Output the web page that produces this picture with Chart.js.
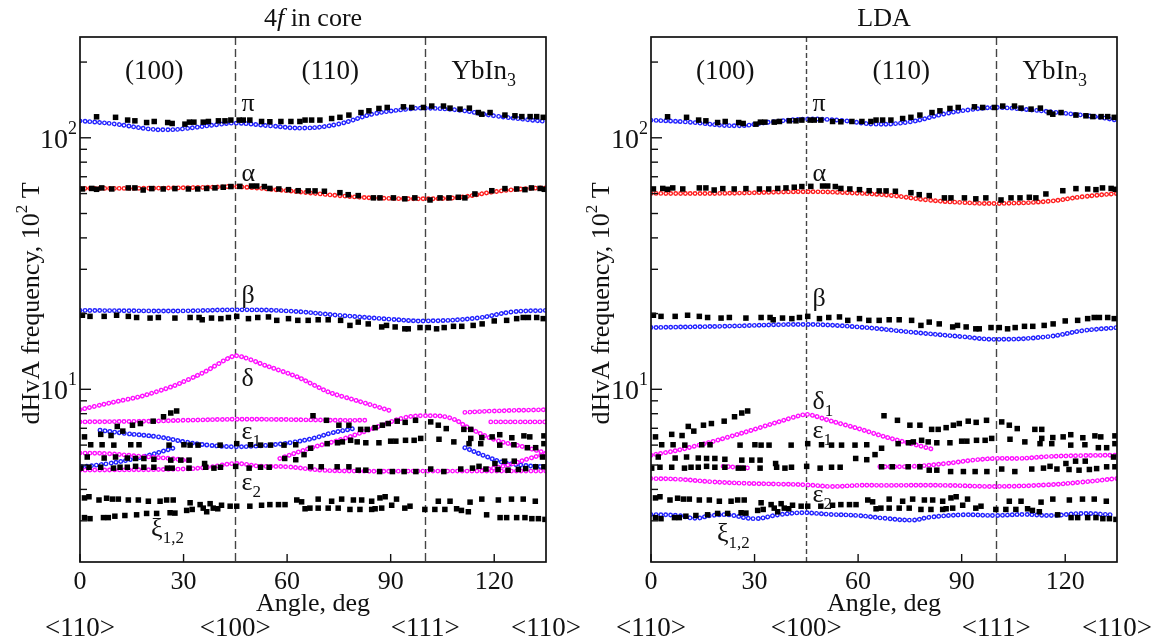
<!DOCTYPE html>
<html>
<head>
<meta charset="utf-8">
<script src="https://cdn.jsdelivr.net/npm/chart.js@4.4.1/dist/chart.umd.min.js"></script>
<style>
  html, body { margin: 0; padding: 0; background: #fff; }
  #wrap { position: relative; width: 1154px; height: 641px; }
  #wrap canvas { position: absolute; left: 0; top: 0; }
</style>
</head>
<body>
<div id="wrap">
  <canvas id="leftChart" width="1154" height="641"></canvas>
  <canvas id="rightChart" width="1154" height="641"></canvas>
</div>
<script>
// axis ticks and labels
const angleTicks = [0, 30, 60, 90, 120];
const freqTicks = [3, 4, 5, 6, 7, 8, 9, 10, 20, 30, 40, 50, 60, 70, 80, 90, 100, 200];
const decadeTicks = [10, 100];
const dividers = [45, 100];
const directions = [[0, '<110>'], [45, '<100>'], [100, '<111>'], [135, '<110>']];

// experimental dHvA points (black squares), [angle, frequency]
const expPi = [[4.8,121.2],[10.3,120.6],[13.8,117.6],[15.9,116.8],[19.3,115.0],[21.5,116.1],[25.4,115.0],[26.7,114.0],[30.4,113.3],[31.7,115.4],[33,115.4],[35.7,115.4],[37.2,116.1],[40.1,116.8],[42,116.8],[43.7,117.6],[46.1,117.6],[47.3,117.6],[49.2,117.6],[52.6,116.1],[55,115.8],[58.2,116.1],[61.1,116.1],[63.7,116.1],[65.2,117.6],[67.1,117.6],[69.5,117.6],[72.9,119.3],[75.3,120.6],[77.9,123.1],[81.4,126.0],[83.7,128.0],[86.6,130.8],[89,132.0],[93.7,132.8],[96.1,132.0],[99.5,132.0],[101.9,133.7],[105.3,133.7],[107.2,131.2],[110.1,130.0],[112.8,131.2],[115.4,126.0],[116.4,124.1],[118.8,126.0],[123.1,123.1],[126,122.3],[128,121.4],[130.4,121.4],[132.3,121.4],[134.2,120.6]];
const expAlpha = [[0.7,62.6],[3.4,62.9],[4.8,62.4],[6.3,63.2],[9.2,62.6],[14,63.2],[15.9,63.2],[18.3,62.0],[20.8,62.8],[24.1,62.6],[27.5,62.8],[31.4,62.6],[34.1,62.6],[36.7,62.9],[39.1,63.2],[41.5,63.6],[43.7,64.0],[46.3,64.1],[49.7,64.3],[51.2,64.3],[53.4,64.0],[55,62.9],[57.6,62.6],[60.4,62.2],[63.2,61.6],[66.1,61.5],[68.1,61.5],[70.8,61.3],[75.3,60.5],[77.7,59.4],[80.6,58.9],[85,57.7],[86.9,57.7],[90.8,57.7],[94.1,57.2],[97,57.7],[101.4,56.6],[104.3,57.7],[106.9,57.7],[109.6,58.0],[111.5,57.7],[114.4,59.8],[119.3,61.6],[123.1,62.8],[126.5,62.6],[128.9,62.2],[130.8,63.2],[133.3,62.9],[134.5,62.4]];
const expBeta = [[0.7,19.7],[2.9,19.5],[7,19.5],[10.6,19.7],[14,19.5],[16.4,19.3],[20.3,19.2],[22.7,19.3],[27.5,19.2],[31.9,19.3],[34.5,19.3],[35.4,18.9],[38.1,19.2],[40.8,19.1],[43,19.3],[45.4,19.5],[48.8,19.1],[51.5,19.3],[54.6,19.4],[57,18.8],[60.4,19.1],[63.1,18.8],[66.1,18.8],[69,18.9],[71.9,18.9],[75.5,18.8],[78.2,17.95],[80.6,18.5],[83.5,18.2],[87.4,17.7],[88.8,17.95],[91.3,17.7],[94.1,17.4],[95.1,17.4],[98.5,17.6],[100.9,17.6],[103.3,17.4],[105.5,17.6],[108.2,17.8],[110.6,17.8],[113.9,17.95],[116.5,18.2],[120,18.7],[123.6,18.8],[126.5,19.1],[128.4,19.3],[129.9,19.3],[132.3,19.3],[134.2,19.1]];
const expDelta = [[1.3,6.47],[6,6.62],[9,6.55],[10.8,7.12],[12.4,6.82],[15.2,7.2],[17.5,7.31],[21.2,7.47],[24.2,7.78],[26.3,8.05],[28,8.2]];
const expUpper = [[67.5,7.85],[71.4,7.53],[75,7.2],[77.9,7.2],[81.3,6.93],[83.2,6.93],[85.5,7.04],[87.6,7.2],[89.3,7.31],[91.9,7.47],[94.2,7.39],[97.2,7.53],[101.6,7.42],[103.8,7.2],[106.1,6.98],[111.2,6.93],[113.2,6.93],[116.4,6.43],[119.4,6.47],[121.6,6.6],[125.1,6.42],[128.6,6.53],[130.3,6.47],[134.4,6.53]];
const expEps1 = [[3.1,6.02],[6.4,6.02],[9.8,6.0],[14.7,6.02],[17.1,6.02],[25.8,6.0],[30.1,6.02],[31.9,6.0],[34.2,6.0],[40.6,6.0],[45.4,6.08],[49.4,6.02],[52.3,6.0],[55.2,6.0],[59.1,6.0],[62.5,6.02],[71.6,6.08],[74.6,6.13],[76,6.18],[78.4,6.27],[80.3,6.18],[82.8,6.13],[86.6,6.13],[90,6.22],[91.5,6.22],[94.3,6.27],[96.8,6.27],[98.7,6.38],[104,6.33],[108.3,6.18],[112.7,6.08],[113.2,6.38],[116.1,6.08],[121.6,6.0],[125.7,6.02],[129.6,5.86],[132,5.86],[134.4,6.08]];
const expEps = [[2.1,5.38],[7,5.33],[10.3,5.38],[13.7,5.33],[16.1,5.31],[18.5,5.31],[21.4,5.27],[26.3,5.23],[29.2,5.23],[31.6,5.23],[36.1,5.07],[59.3,5.31],[62.5,5.25],[64.9,5.5],[66.8,5.83]];
const expEps2 = [[0.2,4.86],[2.6,4.9],[6,4.9],[9.7,4.86],[11.6,4.9],[13.7,4.9],[16.1,4.94],[18.5,4.9],[21.4,4.9],[25.3,4.86],[26.7,4.86],[31.6,4.86],[36.4,4.9],[38.8,4.86],[40.7,4.9],[45.1,4.94],[49,4.86],[52.3,4.9],[54.8,4.9],[66.8,4.92],[69.9,4.92],[74.5,4.92],[77.9,4.92],[80.6,4.77],[82.8,4.77],[86.8,4.71],[90.5,4.71],[93.9,4.71],[97.3,4.71],[101.6,4.82],[105.4,4.71],[110.3,4.82],[113.7,4.86],[115.6,4.94],[117.6,4.82],[120.2,5.07],[121.1,4.8],[123,5.18],[124,4.77],[125.8,5.18],[127,4.8],[129.1,4.84],[132,4.92],[134,5.38],[134.4,4.92]];
const expXi1 = [[1.3,3.70],[2.6,3.74],[5.5,3.63],[7.7,3.69],[9.4,3.66],[11.1,3.66],[14,3.63],[16.9,3.63],[19.8,3.59],[23.2,3.59],[25.1,3.63],[27,3.63],[31.9,3.54],[34.8,3.48],[37.7,3.51],[41,3.46],[43.5,3.43],[45.4,3.43],[49.2,3.43],[52.6,3.46],[55,3.48],[57.5,3.48],[59.4,3.48],[62.8,3.63],[64.2,3.57],[69,3.66],[72.9,3.59],[75.8,3.66],[79.2,3.63],[81.6,3.63],[84.5,3.59],[86.9,3.70],[88.4,3.74],[91.7,3.66],[103.8,3.59],[107.2,3.59],[113,3.56],[116.4,3.66],[121.2,3.63],[125,3.66],[128.4,3.66],[131.9,3.59]];
const expXi2 = [[1.3,3.09],[2.9,3.06],[6.8,3.09],[8.2,3.09],[10.1,3.13],[13,3.15],[16.4,3.17],[19.3,3.21],[22.2,3.21],[26.1,3.23],[27.5,3.22],[30.9,3.30],[32.5,3.33],[35.7,3.37],[36.7,3.26],[38.6,3.37],[39.9,3.35],[65.2,3.35],[66.6,3.37],[69,3.37],[71.9,3.37],[74.8,3.37],[78.2,3.33],[81.1,3.33],[84.5,3.33],[85.5,3.35],[87.4,3.37],[90.3,3.46],[94.1,3.37],[95.6,3.43],[99.9,3.33],[102.8,3.33],[105.7,3.33],[109.1,3.35],[110.5,3.30],[112.5,3.26],[117.8,3.17],[121.7,3.09],[123.6,3.09],[126.5,3.09],[128.9,3.09],[130.9,3.06],[132.8,3.06],[134.7,3.04]];

// "4f in core" calculation (open circles)
const corePi = [[0,116.8],[10,113.5],[20,108.4],[25,107.6],[30,108.6],[40,112.9],[45,114.4],[55,111.6],[65,109.3],[75,113.5],[85,124.4],[95,130],[100,131.2],[110,128.7],[120,122.3],[130,117.9],[135,116.1]];
const coreAlpha = [[0,62.9],[20,63.0],[40,63.7],[45,64],[60,61.6],[75,58.9],[85,57.7],[100,57.2],[110,58],[120,61],[130,62.9],[135,63.2]];
const coreBeta = [[0,20.6],[20,20.5],[30,20.5],[45,20.7],[60,20.5],[75,19.7],[90,19.0],[100,18.7],[115,19.2],[125,20.3],[135,20.6]];
const coreDelta = [[0,8.3],[9,8.85],[18,9.4],[27,10.3],[36,11.7],[45,13.6],[54,12.4],[63,11.2],[72,9.75],[81,8.95],[89.5,8.25]];
const coreEpsTop = [[0,7.42],[20,7.47],[30,7.53],[45,7.6],[60,7.58],[75,7.53],[82.5,7.53]];
const coreTopA = [[111.5,8.1],[120,8.2],[135,8.3]];
const coreTopB = [[119,7.42],[127,7.42],[135,7.42]];
const coreEps1 = [[5.8,6.88],[13,6.68],[22.7,6.47],[30.4,6.18],[37.2,6.0],[45.4,5.91],[54.6,6.0],[61.3,6.15],[68.1,6.41],[72.4,6.68],[79.2,6.98]];
const coreBlueLow = [[0.5,4.92],[8.2,5.07],[17.9,5.38],[27.5,5.86]];
const coreBlueRight = [[111.5,5.86],[116.8,5.47],[122.6,5.12],[128.4,4.99],[134.2,4.92]];
const coreHump = [[57.9,5.31],[66.6,5.83],[76.3,6.36],[86,7.08],[93.7,7.7],[99.5,7.85],[107.2,7.7],[113,6.98],[120.7,6.27],[128.4,5.91],[135,5.58]];
const coreRise = [[117,4.78],[124,5.0],[130,5.3],[135,5.55]];
const coreMid = [[0,5.58],[8,5.55],[18,5.41],[26,5.31],[32,5.2]];
const coreEps2 = [[0,4.77],[30,4.82],[38,4.92],[45,5.07],[52,4.95],[60,4.92],[70,4.77],[80,4.73],[100,4.73],[120,4.73],[135,4.73]];

// LDA calculation (open circles)
const ldaPi = [[0,117.5],[10,115.7],[25,111.6],[35,115.7],[45,118.7],[55,117.3],[65,113.3],[75,115.7],[85,124.5],[92,129.1],[100,131.9],[110,129.1],[120,125.1],[128,121.7],[135,117.5]];
const ldaAlpha = [[0,60.1],[20,60.1],[45,61.0],[60,60.2],[70,58.9],[80,56.6],[90,55.3],[100,54.8],[115,55.9],[125,58.3],[135,60.1]];
const ldaBeta = [[0,17.6],[20,17.8],[45,18.1],[60,17.7],[75,16.9],[90,16.2],[100,15.8],[115,16.2],[125,17.1],[135,17.6]];
const ldaDelta1 = [[0,5.47],[7.9,5.73],[17.5,6.18],[27.2,6.75],[36.9,7.42],[45.1,7.95],[52.3,7.47],[60.1,6.98],[67.8,6.47],[75,6.1],[81.7,5.77]];
const ldaShort = [[20.9,4.94],[25,4.9],[29.2,4.86]];
const ldaEps1 = [[66.3,4.92],[75.9,4.94],[85.5,5.07],[93.3,5.23],[99.7,5.31],[106.9,5.31],[114.7,5.4],[124.4,5.45],[135,5.47]];
const ldaEps2 = [[0,4.42],[8,4.39],[17.5,4.29],[27.2,4.23],[36.9,4.2],[45.1,4.17],[52.3,4.11],[60,4.15],[67.8,4.15],[85.7,4.15],[99.7,4.11],[114.7,4.17],[124.4,4.27],[135,4.42]];
const ldaXi = [[0,3.18],[7.9,3.15],[12.8,3.07],[17.5,3.15],[22.3,3.17],[30,3.06],[36.9,3.17],[43.7,3.23],[52.3,3.18],[60,3.15],[67.8,3.07],[75.9,3.02],[80.7,3.1],[90.4,3.17],[99.7,3.15],[107.9,3.18],[116.6,3.15],[124.4,3.21],[134,3.17]];

// branch labels [angle, frequency, letter, subscript]
const coreLabels = [[46.8,128,'π',''],[46.8,67.5,'α',''],[46.8,22,'β',''],[46.8,10.3,'δ',''],[46.8,6.37,'ε','1'],[46.8,3.97,'ε','2'],[20.6,2.6,'ξ','1,2']];
const ldaLabels = [[46.8,128,'π',''],[46.8,67.5,'α',''],[46.8,21.5,'β',''],[46.8,8.35,'δ','1'],[46.8,6.42,'ε','1'],[46.8,3.57,'ε','2'],[19.1,2.5,'ξ','1,2']];

const BLUE = '#2424ff', RED = '#ff2020', MAGENTA = '#ff10ff';
const serif = "'Liberation Serif', 'Times New Roman', serif";

const pts = a => a.map(([x, y]) => ({ x, y }));

function squares(data) {
    return { data: pts(data), showLine: false, pointStyle: 'rect', pointRadius: 3.9,
             pointBackgroundColor: '#000', pointBorderWidth: 0, pointHoverRadius: 0, order: 0 };
}

// open-circle curves: coloured dotted line with a white dotted line on top
let ringCount = 0;
function rings(data, color, tension) {
    ringCount += 2;
    const base = { showLine: true, pointRadius: 0, pointHoverRadius: 0, tension: tension ?? 0.4,
                   borderCapStyle: 'round', borderDash: [0.01, 4.9], fill: false };
    return [
        Object.assign({ data: pts(data), borderColor: color, borderWidth: 4.9, order: 500 - ringCount }, base),
        Object.assign({ data: pts(data), borderColor: '#fff', borderWidth: 2.1, order: 499 - ringCount }, base)
    ];
}

function rich(ctx, parts, x, y, align) {
    let w = 0;
    parts.forEach(p => { ctx.font = `${p[3] || ''} ${p[1]}px ${serif}`; w += ctx.measureText(p[0]).width; });
    let cx = align === 'center' ? x - w / 2 : align === 'right' ? x - w : x;
    ctx.textAlign = 'left';
    ctx.textBaseline = 'alphabetic';
    parts.forEach(p => {
        ctx.font = `${p[3] || ''} ${p[1]}px ${serif}`;
        ctx.fillText(p[0], cx, y + (p[2] || 0));
        cx += ctx.measureText(p[0]).width;
    });
}

const panelPlugin = {
    id: 'panel',
    beforeDatasetsDraw(chart, args, opts) {
        const { ctx, chartArea: a, scales: { x } } = chart;
        ctx.save();
        ctx.strokeStyle = '#444';
        ctx.lineWidth = 1.4;
        dividers.forEach((v, i) => {
            const px = Math.round(x.getPixelForValue(v)) + 0.5;
            ctx.setLineDash(opts.dashes[i]);
            ctx.beginPath(); ctx.moveTo(px, a.top); ctx.lineTo(px, a.bottom); ctx.stroke();
        });
        ctx.restore();
    },
    afterDraw(chart, args, opts) {
        const { ctx, chartArea: a, scales: { x, y } } = chart;
        ctx.save();
        ctx.fillStyle = '#111';
        ctx.strokeStyle = '#111';
        ctx.lineWidth = 1.7;
        ctx.strokeRect(a.left, a.top, a.right - a.left, a.bottom - a.top);

        // inward ticks
        ctx.lineWidth = 1.4;
        freqTicks.forEach(v => {
            const py = y.getPixelForValue(v);
            const len = decadeTicks.includes(v) ? 11 : 7;
            ctx.beginPath(); ctx.moveTo(a.left, py); ctx.lineTo(a.left + len, py); ctx.stroke();
        });
        angleTicks.forEach(v => {
            const px = x.getPixelForValue(v);
            ctx.beginPath(); ctx.moveTo(px, a.bottom); ctx.lineTo(px, a.bottom - 8); ctx.stroke();
        });

        // tick labels
        decadeTicks.forEach(v => {
            const py = y.getPixelForValue(v);
            rich(ctx, [['10', 28], [String(Math.round(Math.log10(v))), 18, -14]], a.left - 3, py + 10, 'right');
        });
        angleTicks.forEach(v => {
            rich(ctx, [[String(v), 26]], x.getPixelForValue(v), a.bottom + 27, 'center');
        });
        const cx = (a.left + a.right) / 2;
        rich(ctx, [['Angle, deg', 26]], cx, a.bottom + 49, 'center');
        directions.forEach(([v, t]) => rich(ctx, [[t, 27]], x.getPixelForValue(v), a.bottom + 74, 'center'));

        // axis title
        ctx.save();
        ctx.translate(opts.titleX, (a.top + a.bottom) / 2 + 4);
        ctx.rotate(-Math.PI / 2);
        rich(ctx, [['dHvA frequency, 10', 26], ['2', 17, -12], [' T', 26]], 0, 9, 'center');
        ctx.restore();

        // panel title
        rich(ctx, opts.title, cx, 26, 'center');

        // section labels
        rich(ctx, [['(100)', 27]], x.getPixelForValue(21.5), a.top + 42, 'center');
        rich(ctx, [['(110)', 27]], x.getPixelForValue(72.5), a.top + 42, 'center');
        rich(ctx, [['YbIn', 27], ['3', 18, 7]], x.getPixelForValue(117), a.top + 42, 'center');

        // branch labels
        opts.labels.forEach(([ang, f, g, sub]) => {
            const px = x.getPixelForValue(ang), py = y.getPixelForValue(f);
            const parts = [[g, 26]];
            if (sub) parts.push([sub, 17, 7]);
            rich(ctx, parts, px, py, 'left');
        });
        ctx.restore();
    }
};

function makeChart(id, datasets, frameLeft, frameRight, title, labels, titleX, dashes) {
    return new Chart(document.getElementById(id), {
        type: 'scatter',
        data: { datasets },
        options: {
            responsive: false,
            animation: false,
            devicePixelRatio: 1,
            events: [],
            layout: { padding: { left: frameLeft, right: 1154 - frameRight, top: 37, bottom: 641 - 562 } },
            scales: {
                x: { type: 'linear', min: 0, max: 135, display: false },
                y: { type: 'logarithmic', min: 2.058, max: 251.6, display: false }
            },
            plugins: {
                legend: { display: false },
                tooltip: { enabled: false },
                panel: { title, labels, titleX, dashes }
            }
        },
        plugins: [panelPlugin]
    });
}

const expSets = () => [expPi, expAlpha, expBeta, expDelta, expUpper, expEps1, expEps, expEps2, expXi1, expXi2].map(squares);

const coreSets = [
    ...expSets(),
    ...rings(corePi, BLUE), ...rings(coreAlpha, RED), ...rings(coreBeta, BLUE),
    ...rings(coreDelta, MAGENTA, 0.2), ...rings(coreEpsTop, MAGENTA), ...rings(coreTopA, MAGENTA),
    ...rings(coreTopB, MAGENTA), ...rings(coreEps1, BLUE), ...rings(coreBlueLow, BLUE),
    ...rings(coreBlueRight, BLUE), ...rings(coreHump, MAGENTA), ...rings(coreRise, MAGENTA),
    ...rings(coreMid, MAGENTA), ...rings(coreEps2, MAGENTA)
];
makeChart('leftChart', coreSets, 80, 546,
    [['4', 26], ['f', 26, 0, 'italic'], [' in core', 26]], coreLabels, 30, [[8, 4], [8, 4]]);

const ldaSets = [
    ...expSets(),
    ...rings(ldaPi, BLUE), ...rings(ldaAlpha, RED), ...rings(ldaBeta, BLUE),
    ...rings(ldaDelta1, MAGENTA, 0.2), ...rings(ldaShort, MAGENTA), ...rings(ldaEps1, MAGENTA),
    ...rings(ldaEps2, MAGENTA), ...rings(ldaXi, BLUE)
];
makeChart('rightChart', ldaSets, 651, 1117, [['LDA', 26]], ldaLabels, 600, [[5, 3], [8, 4]]);
</script>
</body>
</html>
